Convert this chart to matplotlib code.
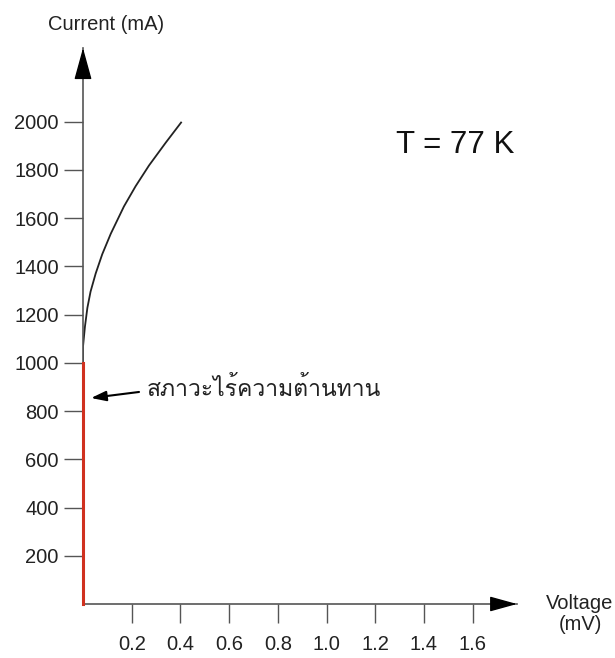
import matplotlib
matplotlib.use("Agg")
import matplotlib.pyplot as plt
from matplotlib import font_manager, ft2font

# I-V curve of the superconductor at 77 K
curve_v = [0.0, 0.0, 0.008, 0.018, 0.031, 0.052, 0.079, 0.114, 0.168, 0.216, 0.271, 0.340, 0.405]
curve_i = [1000, 1067, 1150, 1228, 1295, 1370, 1450, 1535, 1648, 1732, 1818, 1913, 1999]

# zero-resistance part (V = 0 up to the critical current)
zero_v = [0.0, 0.0]
zero_i = [0, 1000]

x_ticks = [0.2, 0.4, 0.6, 0.8, 1.0, 1.2, 1.4, 1.6]
x_labels = ["0.2", "0.4", "0.6", "0.8", "1.0", "1.2", "1.4", "1.6"]
y_ticks = [200, 400, 600, 800, 1000, 1200, 1400, 1600, 1800, 2000]

note_text = "สภาวะไร้ความต้านทาน"
note_tip = (0.033, 854)
note_tail = (0.23, 879)


def thai_family():
    # first installed font that has Thai glyphs
    for f in font_manager.fontManager.ttflist:
        try:
            if 0x0E2A in ft2font.FT2Font(f.fname).get_charmap():
                return f.name
        except Exception:
            continue
    return "DejaVu Sans"


plt.rcParams["font.family"] = ["Liberation Sans", "DejaVu Sans"]
axis_col = "#555555"

fig = plt.figure(figsize=(6.15, 6.58), dpi=100)
ax = fig.add_axes([83 / 615, 54 / 658, 434 / 615, 556 / 658])
ax.set_xlim(0, 1.782)
ax.set_ylim(0, 2305)

for side in ["top", "right"]:
    ax.spines[side].set_visible(False)
for side in ["left", "bottom"]:
    ax.spines[side].set_color(axis_col)
    ax.spines[side].set_linewidth(1.2)

ax.set_xticks(x_ticks)
ax.set_xticklabels(x_labels)
ax.set_yticks(y_ticks)
ax.tick_params(axis="x", direction="out", length=14, width=1, color=axis_col,
               pad=8, labelsize=14.5, labelcolor="#222222")
ax.tick_params(axis="y", direction="out", length=13.5, width=1, color=axis_col,
               pad=4, labelsize=14.5, labelcolor="#222222")

# arrow heads on the axes
ax.annotate("", xy=(0, 1), xytext=(0, 0.95), xycoords="axes fraction",
            arrowprops=dict(arrowstyle="-|>,head_length=2.0,head_width=0.55",
                            color="black", lw=1, shrinkA=0, shrinkB=0, mutation_scale=10))
ax.annotate("", xy=(1, 0), xytext=(1 - 25 / 434, 0), xycoords="axes fraction",
            arrowprops=dict(arrowstyle="-|>,head_length=1.7,head_width=0.47",
                            color="black", lw=1, shrinkA=0, shrinkB=0, mutation_scale=10))

ax.plot(curve_v, curve_i, color="#222222", lw=1.3, solid_capstyle="butt")
ax.plot(zero_v, zero_i, color="#d0311f", lw=2.2, clip_on=False, zorder=4)

ax.annotate("", xy=note_tip, xytext=note_tail,
            arrowprops=dict(arrowstyle="-|>,head_length=0.9,head_width=0.3",
                            color="black", lw=1.5, shrinkA=0, shrinkB=0, mutation_scale=10))
ax.text(0.263, 862, note_text, ha="left", va="baseline", fontsize=16.5,
        family=[thai_family(), "DejaVu Sans"], color="#222222")

fig.text(106 / 615, 1 - 24 / 658, "Current (mA)", ha="center", va="center",
         fontsize=14.5, color="#222222")
fig.text(580 / 615, 1 - 614 / 658, "Voltage\n(mV)", ha="center", va="center",
         fontsize=14.5, color="#222222", linespacing=1.1)
fig.text(455 / 615, 1 - 145 / 658, "T = 77 K", ha="center", va="center",
         fontsize=22.5, color="#111111")

fig.savefig("out.png", dpi=100)
